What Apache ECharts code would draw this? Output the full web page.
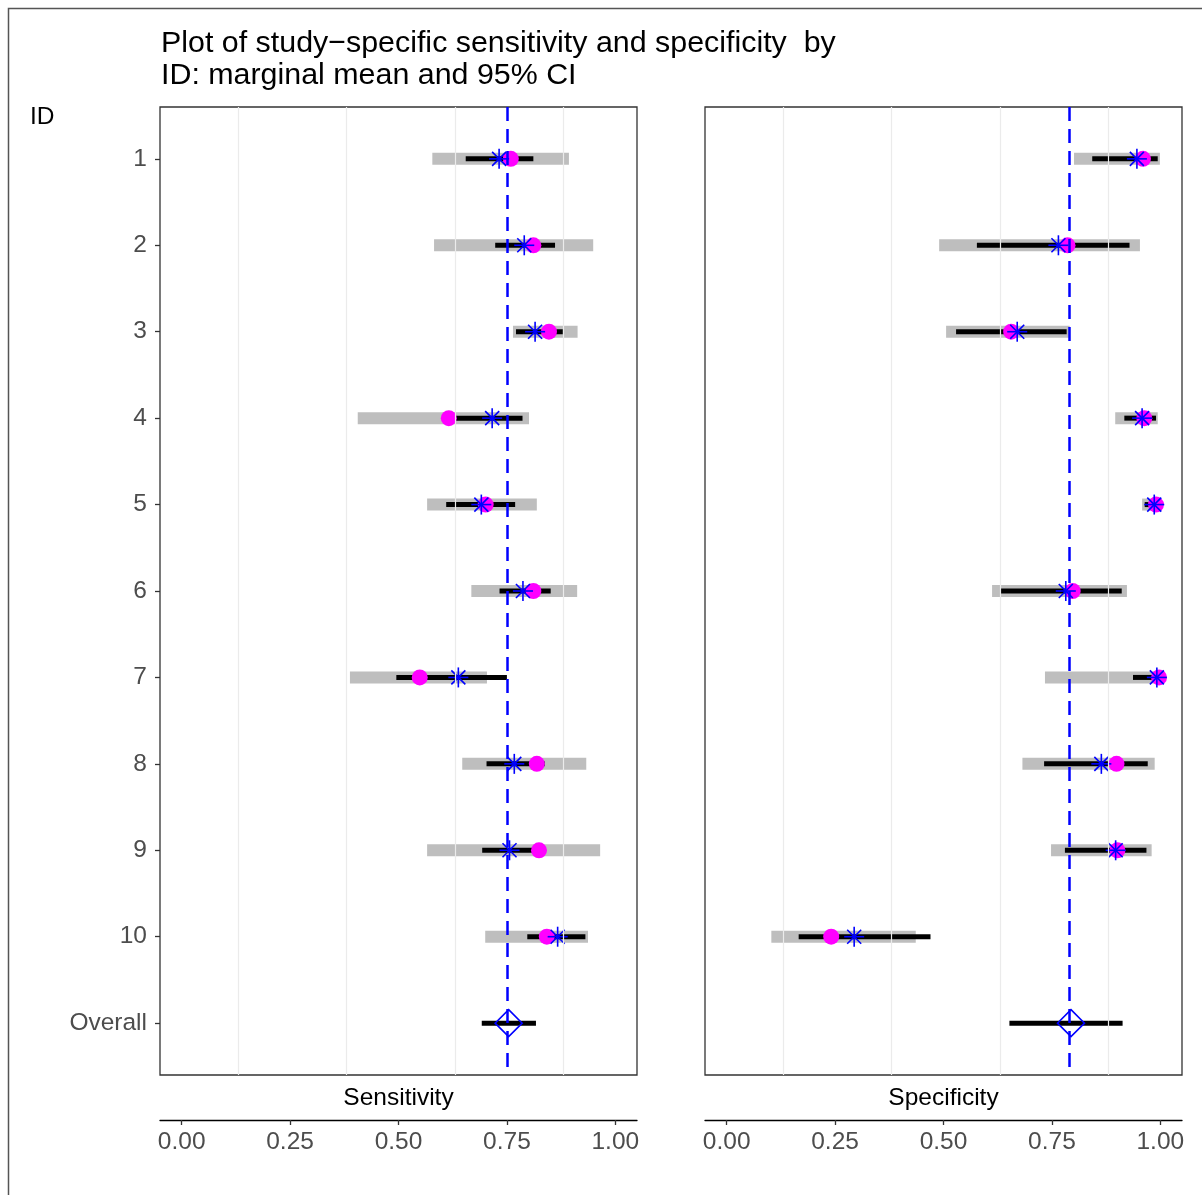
<!DOCTYPE html>
<html>
<head>
<meta charset="utf-8">
<title>Study-specific sensitivity and specificity</title>
<script src="https://cdn.jsdelivr.net/npm/echarts@6/dist/echarts.min.js"></script>
<style>
html, body { margin: 0; padding: 0; background: #fff; }
#main { width: 1202px; height: 1195px; }
</style>
</head>
<body>
<div id="main"></div>
<script type="text/javascript">
// rows of the forest plot (top to bottom)
var ids = ['1', '2', '3', '4', '5', '6', '7', '8', '9', '10', 'Overall'];
var xTicks = [0, 0.25, 0.5, 0.75, 1];
var xMinor = [0.125, 0.375, 0.625, 0.875];

// sensitivity: grey = study 95% CI, black = model 95% CI
var sensObsLo = [0.578, 0.582, 0.764, 0.406, 0.566, 0.668, 0.388, 0.647, 0.566, 0.700];
var sensObsHi = [0.893, 0.949, 0.913, 0.801, 0.819, 0.912, 0.704, 0.933, 0.965, 0.937];
var sensObs   = [0.759, 0.811, 0.847, 0.616, 0.701, 0.811, 0.549, 0.819, 0.824, 0.842];
var sensFitLo = [0.655, 0.723, 0.771, 0.620, 0.610, 0.733, 0.495, 0.703, 0.693, 0.797, 0.692];
var sensFitHi = [0.811, 0.861, 0.879, 0.786, 0.769, 0.851, 0.750, 0.837, 0.820, 0.931, 0.817];
var sensFit   = [0.732, 0.790, 0.815, 0.716, 0.691, 0.787, 0.638, 0.767, 0.756, 0.867];
var sensMean  = 0.754;

// specificity
var specObsLo = [0.801, 0.490, 0.506, 0.896, 0.958, 0.612, 0.734, 0.682, 0.748, 0.103];
var specObsHi = [0.999, 0.953, 0.791, 0.994, 1.000, 0.923, 1.000, 0.987, 0.980, 0.436];
var specObs   = [0.960, 0.786, 0.656, 0.963, 0.990, 0.798, 0.997, 0.899, 0.901, 0.241];
var specFitLo = [0.843, 0.577, 0.529, 0.917, 0.964, 0.632, 0.937, 0.732, 0.780, 0.166, 0.652];
var specFitHi = [0.994, 0.929, 0.784, 0.990, 0.995, 0.911, 0.998, 0.971, 0.968, 0.470, 0.913];
var specFit   = [0.946, 0.765, 0.670, 0.958, 0.986, 0.782, 0.992, 0.864, 0.897, 0.294];
var specMean  = 0.794;

var FONT = '"Liberation Sans", Arial, Helvetica, sans-serif';
var overallRow = ids.length - 1;

function intervalRender(width, color) {
	return function (params, api) {
		var a = api.coord([api.value(0), api.value(2)]);
		var b = api.coord([api.value(1), api.value(2)]);
		return {
			type: 'line',
			shape: { x1: a[0], y1: a[1], x2: b[0], y2: b[1] },
			style: { stroke: color, lineWidth: width }
		};
	};
}

// R pch 8 : plus + cross
function starRender(params, api) {
	var p = api.coord([api.value(0), api.value(1)]);
	var r = 10, d = 7;
	var st = { stroke: '#0000FF', lineWidth: 1.6 };
	return {
		type: 'group',
		children: [
			{ type: 'line', shape: { x1: p[0] - r, y1: p[1], x2: p[0] + r, y2: p[1] }, style: st },
			{ type: 'line', shape: { x1: p[0], y1: p[1] - r, x2: p[0], y2: p[1] + r }, style: st },
			{ type: 'line', shape: { x1: p[0] - d, y1: p[1] - d, x2: p[0] + d, y2: p[1] + d }, style: st },
			{ type: 'line', shape: { x1: p[0] - d, y1: p[1] + d, x2: p[0] + d, y2: p[1] - d }, style: st }
		]
	};
}

function panelSeries(k, obsLo, obsHi, obs, fitLo, fitHi, fit, mean) {
	return [
		{
			type: 'scatter', xAxisIndex: k, yAxisIndex: k, z: 0, silent: true, data: [],
			markLine: {
				silent: true, symbol: 'none', label: { show: false },
				lineStyle: { color: '#EBEBEB', width: 1.2, type: 'solid' },
				data: xMinor.map(function (v) { return { xAxis: v }; })
			}
		},
		{
			type: 'custom', xAxisIndex: k, yAxisIndex: k, z: 1,
			renderItem: intervalRender(12, '#BEBEBE'),
			encode: { x: [0, 1], y: 2 },
			data: obsLo.map(function (lo, i) { return [lo, obsHi[i], i]; })
		},
		{
			type: 'custom', xAxisIndex: k, yAxisIndex: k, z: 2,
			renderItem: intervalRender(5, '#000000'),
			encode: { x: [0, 1], y: 2 },
			data: fitLo.map(function (lo, i) { return [lo, fitHi[i], i]; })
		},
		{
			type: 'scatter', xAxisIndex: k, yAxisIndex: k, z: 3,
			symbol: 'circle', symbolSize: 16,
			itemStyle: { color: '#FF00FF', opacity: 1 },
			data: obs.map(function (v, i) { return [v, i]; })
		},
		{
			type: 'custom', xAxisIndex: k, yAxisIndex: k, z: 4,
			renderItem: starRender,
			encode: { x: 0, y: 1 },
			data: fit.map(function (v, i) { return [v, i]; })
		},
		{
			type: 'scatter', xAxisIndex: k, yAxisIndex: k, z: 4,
			symbol: 'diamond', symbolSize: [27, 27],
			itemStyle: { color: 'rgba(0,0,0,0)', borderColor: '#0000FF', borderWidth: 1.6, opacity: 1 },
			data: [[mean, overallRow]],
			markLine: {
				silent: true, symbol: 'none', label: { show: false },
				lineStyle: { color: '#0000FF', width: 2.5, type: [14, 8] },
				data: [{ xAxis: mean }]
			}
		}
	];
}

function xAxisFor(k) {
	return {
		type: 'value', gridIndex: k, min: -0.05, max: 1.05, offset: 45,
		axisLine: { show: true, onZero: false, lineStyle: { color: '#000', width: 1.3 } },
		axisTick: { show: true, customValues: xTicks, length: 5, lineStyle: { color: '#333', width: 1.3 } },
		axisLabel: {
			customValues: xTicks, margin: 10, color: '#4D4D4D', fontSize: 24.5, fontFamily: FONT,
			formatter: function (v) { return v.toFixed(2); }
		},
		splitLine: { show: false }
	};
}

function yAxisFor(k, withLabels) {
	var rows = ids.map(function (d, i) { return i; });
	return {
		type: 'value', gridIndex: k, inverse: true, min: -0.6, max: 10.6,
		axisLine: { show: false, onZero: false },
		axisTick: { show: withLabels, customValues: rows, length: 5, lineStyle: { color: '#333', width: 1.3 } },
		axisLabel: {
			show: withLabels, customValues: rows,
			margin: 13, color: '#4D4D4D', fontSize: 24.5, fontFamily: FONT,
			formatter: function (v) { return ids[Math.round(v)]; }
		},
		splitLine: { show: false }
	};
}

var myChart = echarts.init(document.getElementById('main'));
var option = {
	animation: false,
	backgroundColor: '#fff',
	title: {
		text: 'Plot of study\u2212specific sensitivity and specificity  by\nID: marginal mean and 95% CI',
		left: 161, top: 28, padding: 0,
		textStyle: { fontSize: 30.4, fontWeight: 'normal', color: '#000', fontFamily: FONT, lineHeight: 32 }
	},
	grid: [
		{ left: 160, top: 107, width: 477, height: 968, show: true, borderColor: '#333', borderWidth: 1.3, backgroundColor: 'transparent' },
		{ left: 705, top: 107, width: 477, height: 968, show: true, borderColor: '#333', borderWidth: 1.3, backgroundColor: 'transparent' }
	],
	xAxis: [xAxisFor(0), xAxisFor(1)],
	yAxis: [yAxisFor(0, true), yAxisFor(1, false)],
	graphic: [
		{ type: 'rect', silent: true, shape: { x: 8.5, y: 8.5, width: 1200, height: 1200 }, style: { fill: 'none', stroke: '#555', lineWidth: 1.5 } },
		{ type: 'text', x: 30, y: 117, style: { text: 'ID', fontSize: 24.5, fontFamily: FONT, fill: '#000', textVerticalAlign: 'middle' } },
		{ type: 'text', x: 398.5, y: 1098, style: { text: 'Sensitivity', fontSize: 24.5, fontFamily: FONT, fill: '#000', textAlign: 'center', textVerticalAlign: 'middle' } },
		{ type: 'text', x: 943.5, y: 1098, style: { text: 'Specificity', fontSize: 24.5, fontFamily: FONT, fill: '#000', textAlign: 'center', textVerticalAlign: 'middle' } }
	],
	series: [].concat(
		panelSeries(0, sensObsLo, sensObsHi, sensObs, sensFitLo, sensFitHi, sensFit, sensMean),
		panelSeries(1, specObsLo, specObsHi, specObs, specFitLo, specFitHi, specFit, specMean)
	)
};
myChart.setOption(option);
</script>
</body>
</html>
